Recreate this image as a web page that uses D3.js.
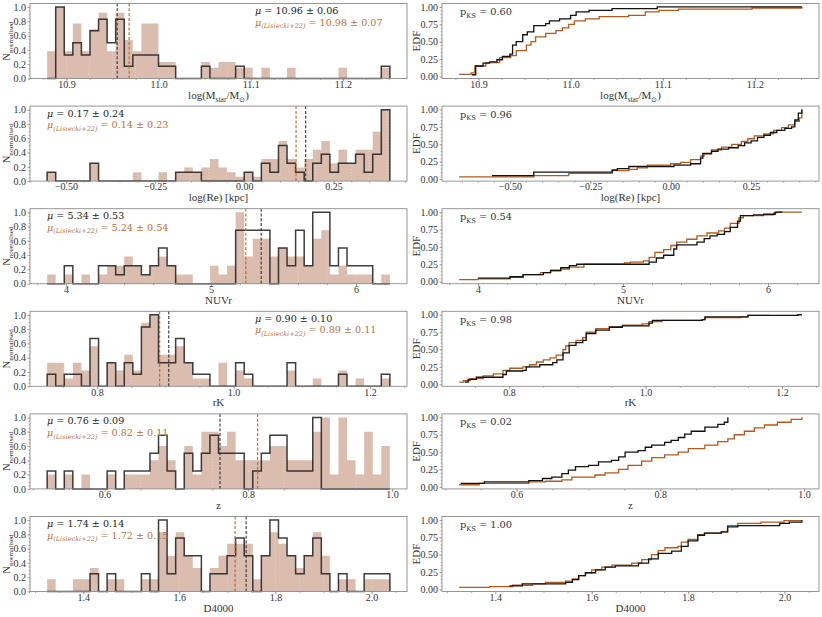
<!DOCTYPE html>
<html><head><meta charset="utf-8">
<script src="https://cdn.jsdelivr.net/npm/d3@7"></script>
<style>
body{margin:0;background:#fff}
svg{display:block}
text{font-family:"Liberation Serif","Times New Roman",serif}
</style>
</head><body>
<svg id="c" width="822" height="617"></svg>
<script>
// ---------------- DATA ----------------
const histLo = [10.879, -0.553, 3.869, 0.7268, 0.520, 1.325];
const histHi = [11.251, 0.408, 6.234, 1.229, 0.997, 2.038];

const h1Ref = [0.38,1.0,0.38,0.77,0.38,0.69,0.92,0.38,0.92,0.54, 0.38,0.77,0.77,0.23,0.23,0,0,0,0.23,0.15, 0.23,0.23,0.15,0.15,0,0.15,0,0,0.15,0, 0,0,0,0,0.15,0,0,0,0,0.15];
const h1Obj = [0,1.0,0.33,0.5,0.33,0.67,0.83,0.5,0.83,0.17, 0.33,0.33,0.33,0.17,0.17,0,0,0,0.17,0, 0,0,0.17,0,0,0,0,0,0,0, 0,0,0,0,0,0,0,0,0,0.17];
const h2Ref = [0.125,0,0,0,0,0.25,0,0,0,0, 0.125,0,0,0.125,0,0.125,0.19,0.125,0.19,0.31, 0.19,0.125,0.06,0.125,0.06,0.31,0.31,0.56,0.31,0.19, 0.31,0.44,0.56,0.25,0.44,0.25,0.44,0.44,0.69,1.0];
const h2Obj = [0.125,0,0,0,0,0.25,0,0,0,0, 0,0,0,0,0,0.125,0.125,0.125,0,0, 0,0,0,0.125,0,0.25,0.125,0.5,0.25,0.125, 0,0.25,0.375,0.125,0.25,0.25,0.375,0.125,0.375,1.0];
const h3Ref = [0.13,0,0.13,0,0.13,0,0.13,0.25,0.25,0.38, 0.25,0.13,0.25,0.38,0.25,0.13,0.13,0,0,0.25, 0.13,0.25,1.0,0.38,0.63,0.63,0.38,0.5,0.38,0.38, 0.25,0.63,0.75,0.13,0.25,0.13,0.13,0.13,0,0.13];
const h3Obj = [0,0,0.25,0,0,0,0.25,0.25,0.125,0.25, 0.25,0.125,0.25,0.5,0.25,0,0,0,0,0, 0,0,0.75,0.75,0.75,0.75,0,0.5,0.25,0.75, 0.25,1.0,1.0,0.25,0.5,0.25,0.25,0.25,0,0];
const h4Ref = [0.33,0.33,0.11,0.33,0.22,0.56,0,0.33,0.22,0.44, 0.22,0.89,1.0,0.44,0.44,0.56,0.33,0.11,0.11,0, 0.33,0,0.22,0.11,0,0,0,0,0.22,0, 0,0.11,0,0,0.22,0,0.11,0,0,0.11];
const h4Obj = [0.17,0,0.17,0.17,0,0.67,0,0.33,0,0.33, 0.17,0.83,1.0,0.33,0.33,0.67,0.33,0.17,0.17,0, 0,0,0.33,0.17,0,0,0,0,0.33,0, 0,0,0,0,0.17,0,0,0,0,0.17];
const h5Ref = [0.2,0,0.2,0,0.2,0,0,0.2,0,0.2, 0.2,0.2,0.4,0.6,0.4,0,0.6,0.2,0.8,0.8, 0.6,0.8,0.4,0.4,0.4,0.4,0.6,0.6,0.4,0.4, 0.4,0.8,1.0,0.2,1.0,0.4,0.2,0.8,0.2,0.6];
const h5Obj = [0.25,0,0.25,0,0,0,0,0.25,0,0.25, 0.25,0.25,0.5,0.75,0.25,0,0.5,0.25,0.5,0.75, 0.5,0.5,0.5,0,0.25,0.5,0.75,0.75,0.25,0.25, 0.25,1.0,0,0,0,0,0,0,0,0];
const h6Ref = [0.17,0,0,0.17,0.17,0.33,0,0.17,0.17,0, 0,0.17,0.17,0.83,0.5,0.83,0.5,0.33,0,0.33, 0.5,0.67,0.67,0.67,0.17,0.5,0.83,0.67,0.5,0.33, 0.5,0.83,0.5,0,0.17,0.17,0,0.17,0.17,0.17];
const h6Obj = [0,0,0,0,0,0.25,0,0.25,0,0, 0,0.25,0,1.0,0.25,0.75,0.5,0.5,0,0.25, 0.25,0.5,0.75,0.5,0,0.5,1.0,0.75,0.5,0.25, 0.5,0.75,0.25,0,0.25,0,0,0.25,0.25,0.25];

const meanObj = [10.955, 0.172, 5.346, 0.905, 0.7606, 1.739];
const meanRef = [10.968, 0.145, 5.240, 0.8917, 0.813, 1.716];
const muObj = ["10.96 ± 0.06", "0.17 ± 0.24", "5.34 ± 0.53", "0.90 ± 0.10", "0.76 ± 0.09", "1.74 ± 0.14"];
const muRef = ["10.98 ± 0.07", "0.14 ± 0.23", "5.24 ± 0.54", "0.89 ± 0.11", "0.82 ± 0.11", "1.72 ± 0.15"];
const muSide = ["right", "left", "left", "right", "left", "left"];
const pks = ["0.60", "0.96", "0.54", "0.98", "0.02", "1.00"];

const xTicks = [[10.9,11.0,11.1,11.2],[-0.5,-0.25,0,0.25],[4,5,6],[0.8,1.0,1.2],[0.6,0.8,1.0],[1.4,1.6,1.8,2.0]];
const xFmt = [".1f", ".2f", "d", ".1f", ".1f", ".1f"];
const xMinor = [0.025, 0.05, 0.2, 0.05, 0.05, 0.05];
const xLabel = [
  [["log(M",""],["star","sub"],["/M",""],["⊙","sub"],[")",""]],
  [["log(Re) [kpc]",""]],
  [["NUVr",""]],
  [["rK",""]],
  [["z",""]],
  [["D4000",""]]
];
const yTicksHist = [0,0.2,0.4,0.6,0.8,1.0];
const yTicksEdf = [0,0.25,0.5,0.75,1.0];

const edf1Obj = [[10.893,0.024],[10.897,0.15],[10.905,0.19],[10.912,0.21],[10.92,0.24],[10.926,0.29],[10.934,0.32],[10.937,0.45],[10.941,0.50],[10.948,0.60],[10.953,0.64],[10.96,0.73],[10.973,0.76],[10.977,0.80],[10.988,0.83],[11.0,0.88],[11.006,0.93],[11.02,0.95],[11.045,0.976],[11.094,1.0],[11.251,1.0]];
const edf1Ref = [[10.879,0.03],[10.892,0.05],[10.896,0.15],[10.908,0.20],[10.923,0.27],[10.935,0.30],[10.941,0.37],[10.952,0.45],[10.957,0.50],[10.962,0.57],[10.973,0.62],[10.984,0.66],[10.991,0.70],[10.998,0.75],[11.004,0.80],[11.016,0.83],[11.031,0.86],[11.063,0.88],[11.081,0.93],[11.096,0.95],[11.117,0.97],[11.197,0.985],[11.251,1.0]];
const edf2Obj = [[-0.556,0.05],[-0.426,0.10],[-0.182,0.13],[-0.166,0.15],[-0.13,0.18],[0.01,0.20],[0.062,0.22],[0.093,0.30],[0.10,0.37],[0.127,0.40],[0.147,0.43],[0.18,0.45],[0.21,0.48],[0.23,0.52],[0.25,0.55],[0.27,0.60],[0.29,0.63],[0.31,0.67],[0.33,0.70],[0.355,0.73],[0.376,0.75],[0.386,0.85],[0.397,0.95],[0.408,1.0]];
const edf2Ref = [[-0.658,0.03],[-0.426,0.05],[-0.317,0.08],[-0.182,0.12],[-0.13,0.14],[-0.104,0.16],[-0.073,0.20],[0.0,0.22],[0.031,0.24],[0.062,0.28],[0.093,0.33],[0.104,0.36],[0.127,0.42],[0.158,0.46],[0.19,0.50],[0.22,0.54],[0.24,0.58],[0.26,0.62],[0.29,0.65],[0.32,0.70],[0.345,0.74],[0.366,0.78],[0.386,0.83],[0.40,0.88],[0.408,1.0]];
const edf3Obj = [[4.0,0.05],[4.22,0.07],[4.31,0.10],[4.45,0.13],[4.5,0.16],[4.57,0.20],[4.63,0.23],[4.68,0.25],[5.18,0.28],[5.23,0.34],[5.28,0.38],[5.35,0.47],[5.37,0.53],[5.51,0.57],[5.56,0.62],[5.6,0.66],[5.65,0.68],[5.7,0.72],[5.74,0.78],[5.79,0.87],[5.81,0.95],[5.9,0.96],[5.97,0.97],[6.05,1.0],[6.1,1.0]];
const edf3Ref = [[3.869,0.03],[4.0,0.04],[4.22,0.06],[4.31,0.10],[4.43,0.13],[4.5,0.16],[4.57,0.18],[4.63,0.21],[4.73,0.25],[5.01,0.27],[5.05,0.28],[5.14,0.30],[5.18,0.35],[5.22,0.42],[5.28,0.46],[5.33,0.52],[5.37,0.57],[5.44,0.61],[5.51,0.66],[5.58,0.70],[5.66,0.73],[5.7,0.77],[5.74,0.84],[5.8,0.92],[5.83,0.95],[5.97,0.96],[6.04,0.99],[6.06,1.0],[6.234,1.0]];
const edf4Obj = [[0.735,0.03],[0.74,0.07],[0.752,0.10],[0.791,0.14],[0.796,0.19],[0.82,0.20],[0.825,0.25],[0.845,0.28],[0.864,0.31],[0.87,0.35],[0.879,0.45],[0.888,0.56],[0.898,0.60],[0.908,0.63],[0.913,0.73],[0.927,0.78],[0.947,0.82],[0.966,0.84],[1.005,0.88],[1.01,0.92],[1.083,0.93],[1.087,0.97],[1.15,0.99],[1.223,1.0],[1.229,1.0]];
const edf4Ref = [[0.7268,0.03],[0.733,0.05],[0.743,0.08],[0.762,0.12],[0.777,0.15],[0.791,0.20],[0.801,0.23],[0.82,0.25],[0.83,0.28],[0.84,0.32],[0.85,0.35],[0.86,0.38],[0.869,0.42],[0.879,0.50],[0.883,0.55],[0.888,0.60],[0.898,0.63],[0.908,0.67],[0.913,0.75],[0.927,0.80],[0.947,0.83],[0.966,0.85],[0.995,0.87],[1.005,0.90],[1.024,0.92],[1.083,0.93],[1.087,0.96],[1.14,0.97],[1.15,0.99],[1.18,1.0]];
const edf5Obj = [[0.522,0.05],[0.555,0.07],[0.617,0.09],[0.636,0.12],[0.649,0.14],[0.663,0.19],[0.672,0.24],[0.682,0.29],[0.70,0.31],[0.714,0.36],[0.732,0.38],[0.742,0.43],[0.751,0.50],[0.769,0.52],[0.779,0.57],[0.788,0.60],[0.806,0.64],[0.815,0.67],[0.825,0.71],[0.834,0.76],[0.843,0.80],[0.862,0.86],[0.88,0.90],[0.889,0.93],[0.894,1.0]];
const edf5Ref = [[0.520,0.03],[0.548,0.05],[0.617,0.07],[0.64,0.08],[0.663,0.10],[0.677,0.14],[0.709,0.17],[0.723,0.20],[0.742,0.25],[0.755,0.31],[0.774,0.37],[0.788,0.42],[0.806,0.46],[0.825,0.50],[0.839,0.55],[0.862,0.60],[0.88,0.65],[0.894,0.69],[0.903,0.75],[0.917,0.80],[0.931,0.85],[0.945,0.89],[0.963,0.93],[0.982,0.97],[0.997,1.0]];
const edf6Obj = [[1.429,0.05],[1.456,0.08],[1.546,0.10],[1.56,0.14],[1.573,0.20],[1.587,0.24],[1.608,0.28],[1.628,0.32],[1.649,0.34],[1.697,0.38],[1.718,0.44],[1.738,0.52],[1.766,0.55],[1.786,0.62],[1.80,0.70],[1.82,0.78],[1.834,0.81],[1.869,0.83],[1.882,0.90],[1.903,0.92],[1.99,0.95],[2.01,0.97],[2.036,1.0]];
const edf6Ref = [[1.325,0.03],[1.388,0.04],[1.436,0.06],[1.477,0.08],[1.504,0.10],[1.546,0.12],[1.56,0.15],[1.573,0.20],[1.587,0.24],[1.60,0.28],[1.621,0.32],[1.642,0.35],[1.683,0.38],[1.704,0.43],[1.724,0.50],[1.738,0.56],[1.752,0.60],[1.779,0.62],[1.786,0.68],[1.80,0.72],[1.82,0.79],[1.834,0.81],[1.869,0.83],[1.882,0.92],[1.903,0.95],[1.951,0.97],[1.999,0.99],[2.034,1.0]];

const histRef = [h1Ref,h2Ref,h3Ref,h4Ref,h5Ref,h6Ref];
const histObj = [h1Obj,h2Obj,h3Obj,h4Obj,h5Obj,h6Obj];
const edfRef = [edf1Ref,edf2Ref,edf3Ref,edf4Ref,edf5Ref,edf6Ref];
const edfObj = [edf1Obj,edf2Obj,edf3Obj,edf4Obj,edf5Obj,edf6Obj];

// ---------------- STYLE / LAYOUT ----------------
const C = {
  fill: "#a0522d", fillOp: 0.38,
  step: "#1c1c1c",
  edfRef: "#b35a1f", edfObj: "#111111",
  dashRef: "#c0651f", dashObj: "#333333",
  txtRef: "#b8703c", txtObj: "#222222",
  frame: "#8c8c8c", tick: "#888888", label: "#333333"
};
const ANN_FONT = '"DejaVu Serif","Liberation Serif",serif';
const LP = {x0: 30, x1: 407}, RP = {x0: 442, x1: 819};
const top0 = 3.5, rowStep = 102.6, rowH = 75;

const svg = d3.select("#c");

function rich(g, x, y, segs, size, color, anchor, family) {
  const t = g.append("text").attr("x", x).attr("y", y)
    .attr("font-size", size).attr("fill", color)
    .attr("text-anchor", anchor || "start");
  if (family) t.style("font-family", family);
  let shift = 0;
  segs.forEach(([s, kind]) => {
    const sp = t.append("tspan").text(s);
    let target = 0;
    if (kind.indexOf("sub") >= 0) { sp.attr("font-size", size * 0.68); target = size * 0.28; }
    if (kind.indexOf("it") >= 0) sp.attr("font-style", "italic");
    sp.attr("dy", target - shift);
    shift = target;
  });
  return t;
}

function minorVals(dom, step) {
  const out = [];
  const k0 = Math.ceil(dom[0] / step - 1e-9), k1 = Math.floor(dom[1] / step + 1e-9);
  for (let k = k0; k <= k1; k++) out.push(+(k * step).toFixed(6));
  return out;
}

function styleAxis(g) {
  g.select(".domain").remove();
  g.selectAll("line").attr("stroke", C.tick).attr("stroke-width", 0.7);
  g.selectAll("text").attr("fill", C.label).attr("font-size", 10)
    .attr("font-family", '"Liberation Serif","Times New Roman",serif');
}

function drawAxes(g, x, y, i, t, b, x0, x1, yTicks, yFmt) {
  const dom = x.domain();
  const gx = g.append("g").attr("transform", `translate(0,${b})`);
  gx.call(d3.axisBottom(x).tickValues(minorVals(dom, xMinor[i])).tickSize(1.6).tickFormat(""));
  styleAxis(gx);
  const gx2 = g.append("g").attr("transform", `translate(0,${b})`);
  gx2.call(d3.axisBottom(x).tickValues(xTicks[i]).tickSize(3).tickFormat(d3.format(xFmt[i])));
  styleAxis(gx2);
  gx2.selectAll("text").attr("y", 2.2);

  const gy = g.append("g").attr("transform", `translate(${x0},0)`);
  gy.call(d3.axisLeft(y).tickValues(minorVals([0, 1], 0.05)).tickSize(1.4).tickFormat(""));
  styleAxis(gy);
  const gy2 = g.append("g").attr("transform", `translate(${x0},0)`);
  gy2.call(d3.axisLeft(y).tickValues(yTicks).tickSize(2.5).tickPadding(1.5).tickFormat(d3.format(yFmt)));
  styleAxis(gy2);

  g.append("rect").attr("x", x0).attr("y", t).attr("width", x1 - x0).attr("height", b - t)
    .attr("fill", "none").attr("stroke", C.frame).attr("stroke-width", 0.9);

  rich(g, (x0 + x1) / 2, b + 20, xLabel[i], 11, C.label, "middle");
}

for (let i = 0; i < 6; i++) {
  const t = top0 + i * rowStep, b = t + rowH;

  // ---------- LEFT: histograms ----------
  const gL = svg.append("g");
  const lo = histLo[i], hi = histHi[i], pad = 0.05 * (hi - lo);
  const x = d3.scaleLinear().domain([lo - pad, hi + pad]).range([LP.x0, LP.x1]);
  const y = d3.scaleLinear().domain([0, 1.05]).range([b, t]);
  const nb = histRef[i].length;
  const edges = d3.range(nb + 1).map(k => lo + k * (hi - lo) / nb);

  const ptsRef = edges.map((e, k) => [e, histRef[i][Math.min(k, nb - 1)]]);
  gL.append("path")
    .attr("d", d3.area().x(d => x(d[0])).y0(y(0)).y1(d => y(d[1])).curve(d3.curveStepAfter)(ptsRef))
    .attr("fill", C.fill).attr("fill-opacity", C.fillOp).attr("stroke", "none");

  // light dotted grid (visible over filled bars)
  minorVals(x.domain(), xMinor[i]).forEach(v => {
    gL.append("line").attr("x1", x(v)).attr("x2", x(v)).attr("y1", t).attr("y2", b)
      .attr("stroke", "#ffffff").attr("stroke-opacity", 0.55).attr("stroke-width", 0.8)
      .attr("stroke-dasharray", "0.8,2.2");
  });

  const ptsObj = [[lo, 0]].concat(edges.map((e, k) => [e, histObj[i][Math.min(k, nb - 1)]])).concat([[hi, 0]]);
  gL.append("path")
    .attr("d", d3.line().x(d => x(d[0])).y(d => y(d[1])).curve(d3.curveStepAfter)(ptsObj))
    .attr("fill", "none").attr("stroke", C.step).attr("stroke-width", 1.5).attr("stroke-opacity", 0.85)
    .attr("stroke-linejoin", "miter");

  gL.append("line").attr("x1", x(meanRef[i])).attr("x2", x(meanRef[i])).attr("y1", t).attr("y2", b)
    .attr("stroke", C.dashRef).attr("stroke-width", 1.1).attr("stroke-dasharray", "3,1.8");
  gL.append("line").attr("x1", x(meanObj[i])).attr("x2", x(meanObj[i])).attr("y1", t).attr("y2", b)
    .attr("stroke", C.dashObj).attr("stroke-width", 1.1).attr("stroke-dasharray", "3,1.8");

  drawAxes(gL, x, y, i, t, b, LP.x0, LP.x1, yTicksHist, ".1f");

  const tx = muSide[i] === "right" ? 255 : 47;
  rich(gL, tx, t + 10.5, [["μ", "it"], [" = " + muObj[i], ""]], 9.6, C.txtObj, "start", ANN_FONT);
  rich(gL, tx, t + 22, [["μ", "it"], ["(Lisiecki+22)", "sub it"], [" = " + muRef[i], ""]], 9.6, C.txtRef, "start", ANN_FONT);

  // y label
  rich(gL.append("g").attr("transform", `translate(10,${(t + b) / 2}) rotate(-90)`), 0, 0,
    [["N", ""], ["normalised", "sub"]], 10.5, C.label, "middle");

  // ---------- RIGHT: EDFs ----------
  const gR = svg.append("g");
  const allX = edfRef[i].concat(edfObj[i]).map(d => d[0]);
  const elo = d3.min(allX), ehi = d3.max(allX), epad = 0.05 * (ehi - elo);
  const xr = d3.scaleLinear().domain([elo - epad, ehi + epad]).range([RP.x0, RP.x1]);
  const yr = d3.scaleLinear().domain([-0.03, 1.05]).range([b, t]);
  const ln = d3.line().x(d => xr(d[0])).y(d => yr(d[1])).curve(d3.curveStepAfter);

  gR.append("path").attr("d", ln(edfRef[i])).attr("fill", "none")
    .attr("stroke", C.edfRef).attr("stroke-width", 1.3);
  gR.append("path").attr("d", ln(edfObj[i])).attr("fill", "none")
    .attr("stroke", C.edfObj).attr("stroke-width", 1.3);

  drawAxes(gR, xr, yr, i, t, b, RP.x0, RP.x1, yTicksEdf, ".2f");

  rich(gR, RP.x0 + 18, t + 11.5, [["p", ""], ["KS", "sub"], [" = " + pks[i], ""]], 9.8, C.label, "start", ANN_FONT);
  gR.append("text").attr("transform", `translate(420,${(t + b) / 2}) rotate(-90)`)
    .attr("text-anchor", "middle").attr("font-size", 11).attr("fill", C.label).text("EDF");
}
</script>
</body></html>
